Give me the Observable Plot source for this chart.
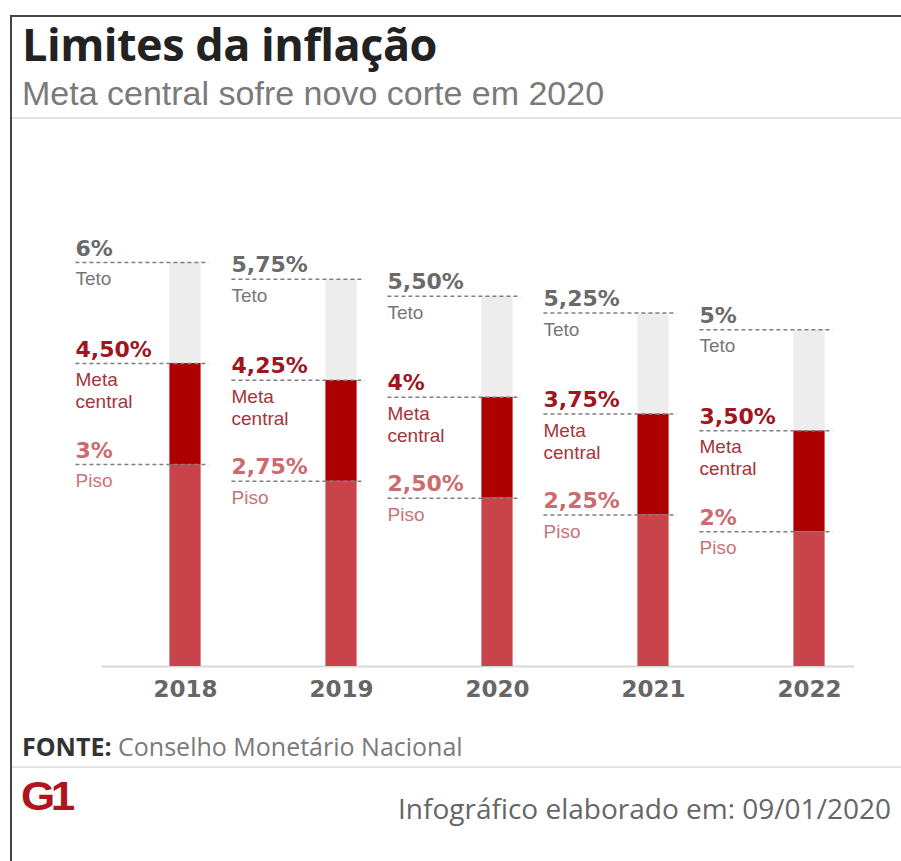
<!DOCTYPE html>
<html>
<head>
<meta charset="utf-8">
<script src="https://cdn.jsdelivr.net/npm/d3@7"></script>
<script src="https://cdn.jsdelivr.net/npm/@observablehq/plot@0.6"></script>
<style>
  html, body { margin: 0; padding: 0; background: #fff; }
  body { width: 901px; height: 861px; position: relative; overflow: hidden; font-family: "Open Sans", sans-serif; }
  .frame { position: absolute; left: 10px; top: 15px; width: 900px; height: 860px; border-left: 2px solid #444; border-top: 2px solid #444; }
  .title { position: absolute; left: 22px; top: 21px; line-height: 1; font-size: 45px; font-weight: 700; color: #222; letter-spacing: -0.5px; white-space: nowrap; }
  .subtitle { position: absolute; left: 22px; top: 76px; line-height: 1; font-family: "Liberation Sans", sans-serif; font-size: 34px; color: #7a7a7a; white-space: nowrap; }
  .sep1 { position: absolute; left: 12px; top: 117px; width: 900px; height: 2px; background: #e2e2e2; }
  #chart { position: absolute; left: 0; top: 120px; }
  .fonte { position: absolute; left: 22px; top: 734px; line-height: 1; font-size: 25px; color: #7a7a7a; white-space: nowrap; }
  .fonte b { color: #333; }
  .sep2 { position: absolute; left: 12px; top: 766px; width: 900px; height: 2px; background: #e2e2e2; }
  .logo { position: absolute; left: 21px; top: 774px; font-family: "Liberation Sans", sans-serif; font-size: 40px; font-weight: 900; color: #b0141c; letter-spacing: -4px; transform: scaleX(1.1); transform-origin: left; }
  .credit { position: absolute; left: 398px; top: 794px; line-height: 1; font-size: 28px; color: #666; white-space: nowrap; }
</style>
</head>
<body>
<div class="frame"></div>
<div class="title">Limites da inflação</div>
<div class="subtitle">Meta central sofre novo corte em 2020</div>
<div class="sep1"></div>
<div id="chart"></div>
<div class="fonte"><b>FONTE:</b> Conselho Monetário Nacional</div>
<div class="sep2"></div>
<div class="logo">G1</div>
<div class="credit">Infográfico elaborado em: 09/01/2020</div>
<script>
const years = ["2018", "2019", "2020", "2021", "2022"];
const teto = [6, 5.75, 5.5, 5.25, 5];
const meta = [4.5, 4.25, 4, 3.75, 3.5];
const piso = [3, 2.75, 2.5, 2.25, 2];
const labelTeto = "Teto";
const labelMeta1 = "Meta";
const labelMeta2 = "central";
const labelPiso = "Piso";

const rows = years.map((year, i) => ({year, teto: teto[i], meta: meta[i], piso: piso[i]}));
const fmt = v => (v % 1 === 0 ? String(v) : v.toFixed(2).replace(".", ",")) + "%";

const LX = -110;      // label offset from band center
const valFont = "DejaVu Sans";
const catFont = "Liberation Sans";
const dash = {strokeWidth: 1.5, stroke: "#808080", strokeDasharray: "4,3", dx: -31.6, insetRight: 22.8};
const valStyle = {dx: LX, dy: -7, textAnchor: "start", lineAnchor: "bottom", fontSize: 22, fontWeight: "bold", fontFamily: valFont};
const catStyle = {dx: LX, dy: 9, textAnchor: "start", lineAnchor: "top", fontSize: 19, fontFamily: catFont};

const chart = Plot.plot({
  width: 901,
  height: 600,
  marginLeft: 105.6,
  marginRight: 11.6,
  marginTop: 142,
  marginBottom: 54,
  style: {color: "#666", background: "transparent"},
  x: {domain: years, padding: 0, label: null},
  y: {domain: [0, 6], axis: null},
  marks: [
    Plot.ruleY([0], {stroke: "#d8d8d8", strokeWidth: 2, insetLeft: -4, insetRight: 35}),
    Plot.barY(rows, {x: "year", y1: 0, y2: "piso", fill: "#c8434a", insetLeft: 62.4, insetRight: 62.4}),
    Plot.barY(rows, {x: "year", y1: "piso", y2: "meta", fill: "#ad0000", insetLeft: 62.4, insetRight: 62.4}),
    Plot.barY(rows, {x: "year", y1: "meta", y2: "teto", fill: "#ededed", insetLeft: 62.4, insetRight: 62.4}),
    Plot.tickY(rows, {x: "year", y: "teto", ...dash}),
    Plot.tickY(rows, {x: "year", y: "meta", ...dash}),
    Plot.tickY(rows, {x: "year", y: "piso", ...dash}),
    Plot.text(rows, {x: "year", y: "teto", text: d => fmt(d.teto), fill: "#6a6a6a", ...valStyle}),
    Plot.text(rows, {x: "year", y: "meta", text: d => fmt(d.meta), fill: "#a01520", ...valStyle}),
    Plot.text(rows, {x: "year", y: "piso", text: d => fmt(d.piso), fill: "#cc6a6e", ...valStyle}),
    Plot.text(rows, {x: "year", y: "teto", text: () => labelTeto, fill: "#777", ...catStyle}),
    Plot.text(rows, {x: "year", y: "meta", text: () => labelMeta1, fill: "#a5353b", ...catStyle}),
    Plot.text(rows, {x: "year", y: "meta", text: () => labelMeta2, fill: "#a5353b", ...catStyle, dy: 31}),
    Plot.text(rows, {x: "year", y: "piso", text: () => labelPiso, fill: "#c97478", ...catStyle}),
    Plot.axisX({tickSize: 0, tickPadding: 14, fontSize: 23, fontWeight: "bold", fontFamily: valFont, fill: "#666", label: null})
  ]
});
document.getElementById("chart").appendChild(chart);
</script>
</body>
</html>
